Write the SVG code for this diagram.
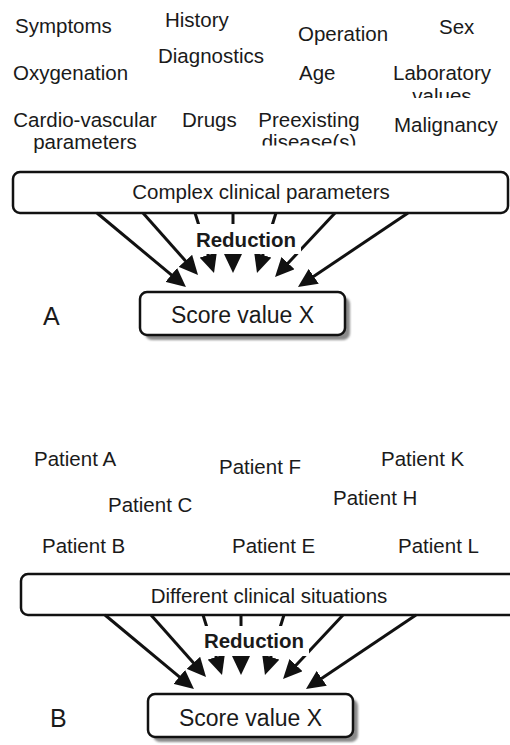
<svg xmlns="http://www.w3.org/2000/svg" width="510" height="745" viewBox="0 0 510 745">
<style>
  text { font-family: "Liberation Sans", Arial, sans-serif; fill: #1a1a1a; }
  .lbl { font-size: 20.5px; }
  .box { fill: #ffffff; stroke: #111111; stroke-width: 2.5; }
  .shadow { fill: #8a8a8a; filter: url(#blur); }
  .boxtxt { font-size: 20.5px; text-anchor: middle; }
  .score { font-size: 23px; text-anchor: middle; }
  .red { font-size: 20.5px; font-weight: bold; text-anchor: middle; }
  .panel { font-size: 25px; }
  .arr { stroke: #111111; stroke-width: 3; fill: none; marker-end: url(#ah); }
  .mask { fill: #ffffff; }
</style>
<defs>
  <marker id="ah" markerUnits="userSpaceOnUse" markerWidth="20" markerHeight="18" refX="11" refY="9" orient="auto">
    <path d="M0,0 L19,9 L0,18 z" fill="#111111"/>
  </marker>
  <filter id="blur" x="-10%" y="-10%" width="120%" height="130%">
    <feGaussianBlur stdDeviation="1"/>
  </filter>
  <clipPath id="clipValues"><rect x="380" y="84" width="130" height="14"/></clipPath>
  <clipPath id="clipDisease"><rect x="240" y="131" width="140" height="14.5"/></clipPath>
</defs>
<rect x="0" y="0" width="510" height="745" fill="#ffffff"/>

<!-- Panel A parameter labels -->
<g id="params-a">
  <g id="p-symptoms"><text class="lbl" x="15" y="33">Symptoms</text></g>
  <g id="p-history"><text class="lbl" x="165" y="27">History</text></g>
  <g id="p-operation"><text class="lbl" x="298" y="41">Operation</text></g>
  <g id="p-sex"><text class="lbl" x="439" y="34">Sex</text></g>
  <g id="p-oxygenation"><text class="lbl" x="13" y="80">Oxygenation</text></g>
  <g id="p-diagnostics"><text class="lbl" x="158" y="63">Diagnostics</text></g>
  <g id="p-age"><text class="lbl" x="299" y="80">Age</text></g>
  <g id="p-laboratory">
    <text class="lbl" x="442" y="80" text-anchor="middle">Laboratory</text>
    <text class="lbl" x="442" y="103" text-anchor="middle" clip-path="url(#clipValues)">values</text>
  </g>
  <g id="p-cardio">
    <text class="lbl" x="85" y="127" text-anchor="middle">Cardio-vascular</text>
    <text class="lbl" x="85" y="149" text-anchor="middle">parameters</text>
  </g>
  <g id="p-drugs"><text class="lbl" x="182" y="127">Drugs</text></g>
  <g id="p-preexisting">
    <text class="lbl" x="309" y="127" text-anchor="middle">Preexisting</text>
    <text class="lbl" x="309" y="149" text-anchor="middle" clip-path="url(#clipDisease)">disease(s)</text>
  </g>
  <g id="p-malignancy"><text class="lbl" x="394" y="132">Malignancy</text></g>
</g>

<!-- Panel B patient labels -->
<g id="patients-b">
  <g id="pt-a"><text class="lbl" x="34" y="466">Patient A</text></g>
  <g id="pt-f"><text class="lbl" x="219" y="474">Patient F</text></g>
  <g id="pt-k"><text class="lbl" x="381" y="466">Patient K</text></g>
  <g id="pt-c"><text class="lbl" x="108" y="512">Patient C</text></g>
  <g id="pt-h"><text class="lbl" x="333" y="505">Patient H</text></g>
  <g id="pt-b"><text class="lbl" x="42" y="553">Patient B</text></g>
  <g id="pt-e"><text class="lbl" x="232" y="553">Patient E</text></g>
  <g id="pt-l"><text class="lbl" x="398" y="553">Patient L</text></g>
</g>

<!-- Boxes -->
<g id="complex-box">
  <rect class="box" x="13" y="172" width="495" height="41" rx="7"/>
  <text class="boxtxt" x="261" y="199">Complex clinical parameters</text>
</g>
<g id="score-a">
  <rect class="shadow" x="145" y="297" width="205" height="43" rx="7"/>
  <rect class="box" x="140" y="292" width="205" height="43" rx="7"/>
  <text class="score" x="242.5" y="323">Score value X</text>
</g>
<g id="label-a"><text class="panel" x="43" y="325">A</text></g>

<g id="situations-box">
  <rect class="box" x="21" y="574" width="495" height="41" rx="7"/>
  <text class="boxtxt" x="269" y="603">Different clinical situations</text>
</g>
<g id="score-b">
  <rect class="shadow" x="153" y="699" width="205" height="43" rx="7"/>
  <rect class="box" x="148" y="694" width="205" height="43" rx="7"/>
  <text class="score" x="250.5" y="726">Score value X</text>
</g>
<g id="label-b"><text class="panel" x="50" y="727">B</text></g>

<!-- Connectors -->
<g id="connectors">
  <line class="arr" x1="97" y1="213" x2="179.8" y2="281.9"/>
  <line class="arr" x1="143" y1="213" x2="192.7" y2="269.0"/>
  <line class="arr" x1="195" y1="213" x2="211.6" y2="265.4"/>
  <line class="arr" x1="233" y1="213" x2="233" y2="265"/>
  <line class="arr" x1="276" y1="213" x2="259.4" y2="265.4"/>
  <line class="arr" x1="335" y1="213" x2="280.5" y2="271.2"/>
  <line class="arr" x1="408" y1="213" x2="304.6" y2="282.5"/>

  <line class="arr" x1="105" y1="615" x2="187.8" y2="683.9"/>
  <line class="arr" x1="151" y1="615" x2="200.7" y2="671.0"/>
  <line class="arr" x1="203" y1="615" x2="219.6" y2="667.4"/>
  <line class="arr" x1="241" y1="615" x2="241" y2="667"/>
  <line class="arr" x1="284" y1="615" x2="267.4" y2="667.4"/>
  <line class="arr" x1="343" y1="615" x2="288.5" y2="673.2"/>
  <line class="arr" x1="416" y1="615" x2="312.6" y2="684.5"/>
</g>

<!-- Reduction labels (over connectors) -->
<g id="reduction-a">
  <rect class="mask" x="190" y="224" width="111" height="30"/>
  <text class="red" x="246" y="247">Reduction</text>
</g>
<g id="reduction-b">
  <rect class="mask" x="198" y="626" width="111" height="30"/>
  <text class="red" x="254" y="648">Reduction</text>
</g>
</svg>
